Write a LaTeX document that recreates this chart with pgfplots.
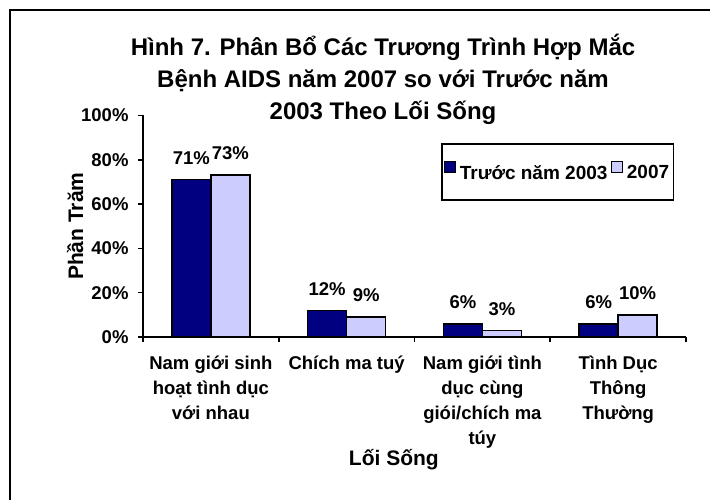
\documentclass[border=0pt]{standalone}
\usepackage{fontspec}
\setmainfont{Liberation Sans}
\usepackage{pgfplots}
\pgfplotsset{compat=1.18}
\definecolor{navybar}{RGB}{0,0,128}
\definecolor{lavbar}{RGB}{204,204,255}
\begin{document}
\begin{tikzpicture}
% page = 710 x 500 (1pt per pixel)
\useasboundingbox (0,0) rectangle (710pt,-500pt);
\draw[line width=2pt] (10pt,-520pt) -- (10pt,-10pt) -- (730pt,-10pt);
\begin{axis}[
    at={(143pt,-337pt)}, anchor=south west,
    scale only axis,
    width=543pt, height=221.6pt,
    ybar, bar width=39pt, ybar=0pt,
    xmin=-0.5, xmax=3.5,
    ymin=0, ymax=100,
    clip=false,
    axis lines*=left,
    axis line style={-, line width=1.6pt},
    tick align=outside,
    major tick length=5pt, minor tick length=5pt,
    ytick={0,20,...,100},
    yticklabel={\pgfmathprintnumber{\tick}\%},
    major y tick style={black, line width=1.6pt},
    xtick={0,1,2,3},
    major x tick style={draw=none},
    minor xtick={-0.5,0.5,1.5,2.5,3.5},
    minor x tick style={black, line width=1.6pt},
    xticklabels={
        {Nam giới sinh\\hoạt tình dục\\với nhau},
        {Chích ma tuý},
        {Nam giới tình\\dục cùng\\giói/chích ma\\túy},
        {Tình Dục\\Thông\\Thường}},
    /pgf/number format/assume math mode=true,
    ticklabel style={font=\fontsize{18.5}{25}\selectfont\bfseries},
    yticklabel style={xshift=-6pt},
    xticklabel style={align=center, yshift=-10pt},
    title={Hình 7. Phân Bổ Các Trương Trình Hợp Mắc\\Bệnh AIDS năm 2007 so với Trước năm\\2003 Theo Lối Sống},
    title style={at={(0.442,1.137)}, anchor=center, align=center,
        font=\fontsize{24}{32}\selectfont\bfseries},
    ylabel={Phần Trăm},
    ylabel style={at={(axis description cs:-0.125,0.5)}, anchor=center,
        font=\fontsize{21}{25}\selectfont\bfseries},
    xlabel={Lối Sống},
    xlabel style={at={(axis description cs:0.462,-0.555)}, anchor=center,
        font=\fontsize{21}{25}\selectfont\bfseries},
    nodes near coords={\pgfmathprintnumber{\pgfplotspointmeta}\%},
    every node near coord/.append style={font=\fontsize{18.5}{22}\selectfont\bfseries, yshift=11pt},
    legend columns=2,
    legend image code/.code={\draw[#1, draw=black, line width=1.2pt] (0pt,0.5pt) rectangle (11pt,11.5pt);
        \path (12pt,0pt);},
    legend style={at={(0.549,0.875)}, anchor=north west, draw=black, line width=1.6pt,
        inner xsep=2pt, inner ysep=17pt,
        nodes={inner sep=2.5pt},
        font=\fontsize{19}{22}\selectfont\bfseries,
        /tikz/every even column/.append style={column sep=1pt}},
]
\addplot[fill=navybar, draw=black, line width=1.6pt] coordinates {(0,71) (1,12) (2,6) (3,6)};
\addlegendentry{Trước năm 2003}
\addplot[fill=lavbar, draw=black, line width=1.6pt] coordinates {(0,73) (1,9) (2,3) (3,10)};
\addlegendentry{2007}
\end{axis}
\end{tikzpicture}
\end{document}
